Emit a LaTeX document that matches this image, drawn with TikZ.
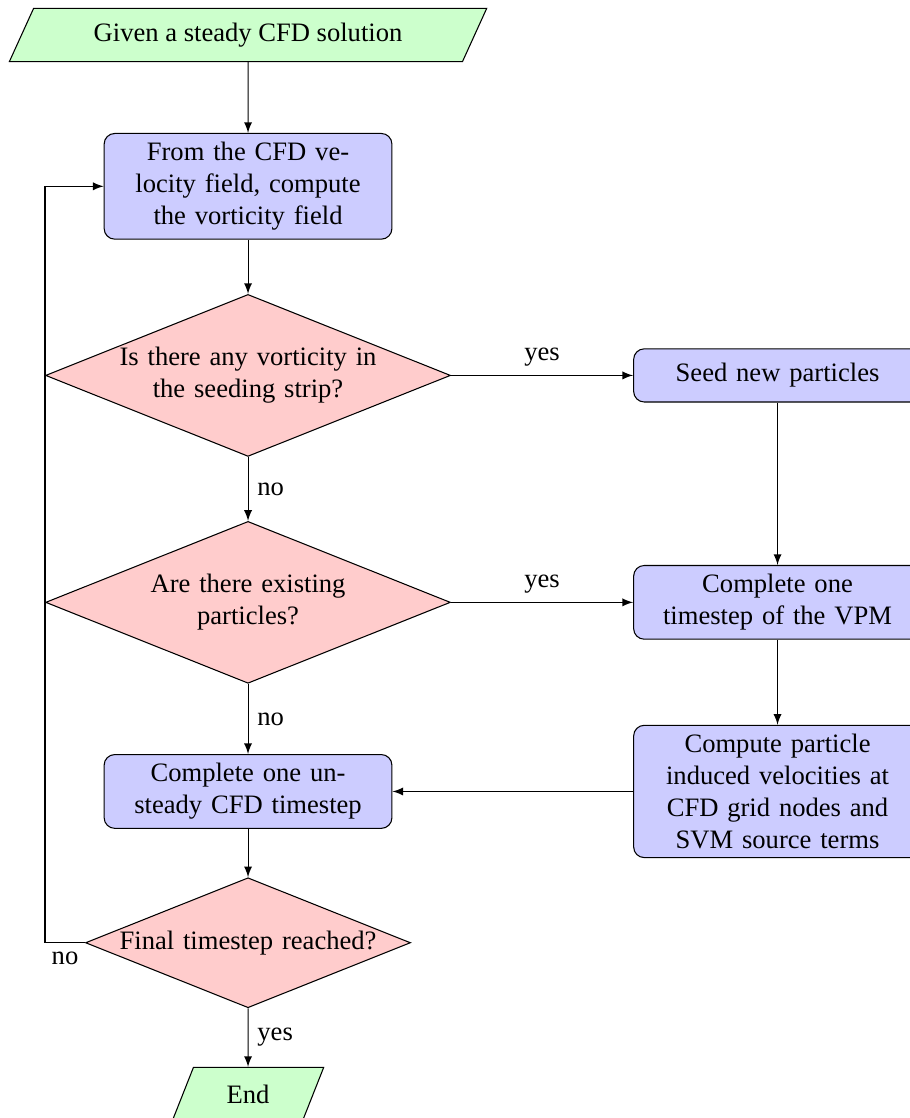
\documentclass[tikz,border=0pt]{standalone}
\usepackage{fontspec}
\setmainfont{Liberation Serif}
\usetikzlibrary{shapes.geometric}
\begin{document}
\begin{tikzpicture}[node distance={20mm}, >=latex,
    io/.style = {draw, trapezium, trapezium left angle=60, trapezium right angle=120, trapezium stretches body, fill=green!20, minimum height=2em},
    block/.style = {draw, rectangle, rounded corners, fill=blue!20, text width=3.57cm, align=center, minimum height=2em},
    decision/.style = {draw, diamond, aspect=2.5, fill=red!20, text width=3.5cm, align=center, inner sep=0pt}]
            \useasboundingbox (-3.279,0.463) rectangle (8.751,-14.317);
            \node[io, minimum width=6.31cm] (1) {Given a steady CFD solution};
            \node[block] (2)[below of=1] {From the CFD ve-\\locity field, compute\\the vorticity field};
            \node[decision] (3)[node distance=25mm, below of=2] {Is there any vorticity in\\the seeding strip?};
            \node[decision] (4)[node distance=30mm, below of=3] {Are there existing\\particles?};
            \node[block] (5)[node distance=25mm, below of=4] {Complete one un-\\steady CFD timestep};
            \node[decision] (6)[below of=5] {Final timestep reached?};
            \node[io, minimum width=2cm] (7)[below of=6] {End};
            \node[block] (8)[node distance=70mm, right of=3] {Seed new particles};
            \node[block] (9)[node distance=70mm, right of=4] {Complete one\\timestep of the VPM};
            \node[block] (10)[node distance=70mm, right of=5] {Compute particle\\induced velocities at\\CFD grid nodes and\\SVM source terms};
            \coordinate (11) at (3.west |- 6.west);
            \draw[->] (1) -- (2);
            \draw[->] (2) -- (3);
            \draw[->] (3) -- node [right, midway] {no} (4);
            \draw[->] (4) -- node [right, midway] {no} (5);
            \draw[->] (5) -- (6);
            \draw[->] (6) -- node [right, midway] {yes} (7);
            \draw[->] (3) -- node [above, midway] {yes} (8);
            \draw[->] (4) -- node [above, midway] {yes} (9);
            \draw[->] (8) -- (9);
            \draw[->] (9) -- (10);
            \draw[->] (10) -- (5);
            \draw[->] (6) -- node [below, midway] {no} (11) |- (2);
        \end{tikzpicture}
\end{document}
